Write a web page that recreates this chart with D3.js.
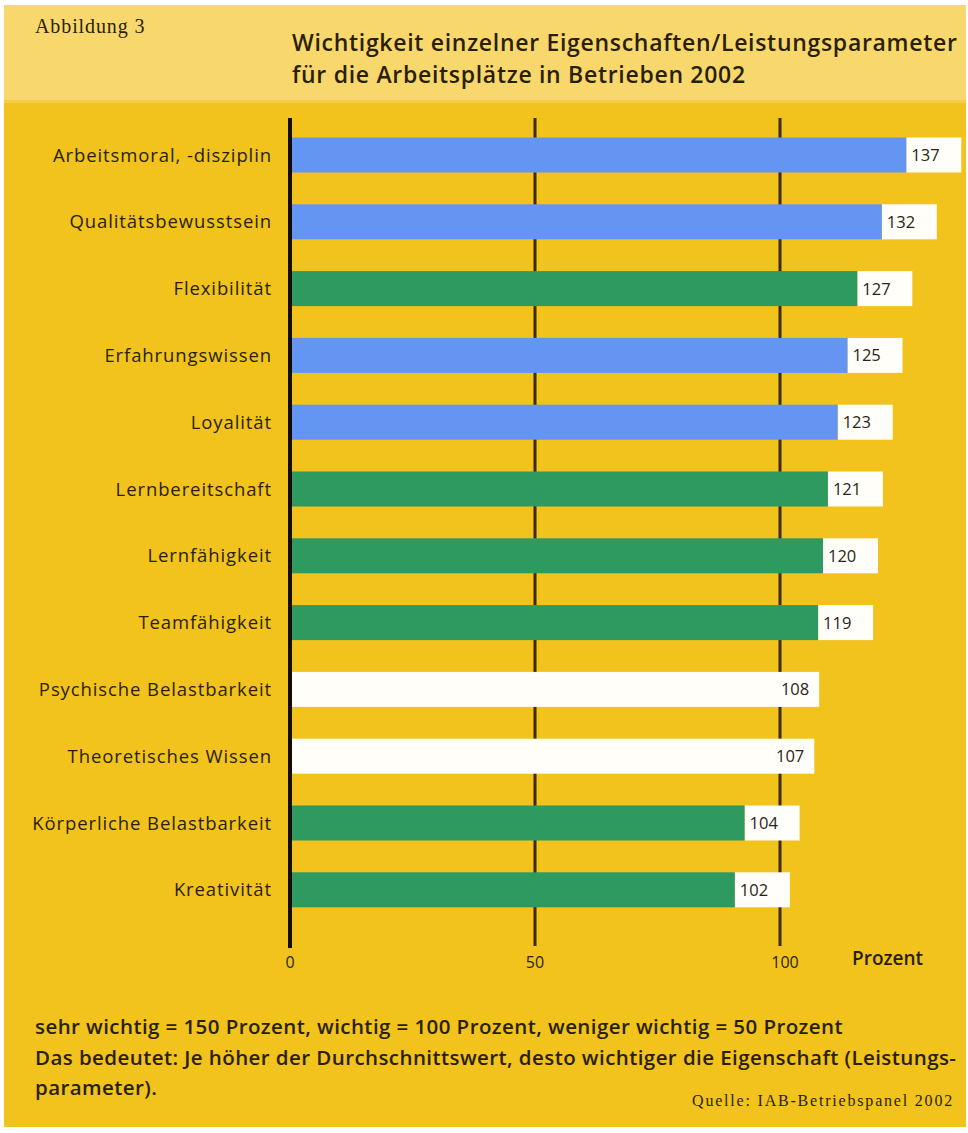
<!DOCTYPE html>
<html>
<head>
<meta charset="utf-8">
<script src="https://cdn.jsdelivr.net/npm/d3@7"></script>
<style>
  html, body { margin: 0; padding: 0; background: #ffffff; }
  svg { display: block; }
</style>
</head>
<body>
<svg id="chart" width="968" height="1133"></svg>
<script>
// ---- data ----
const categories = [
  "Arbeitsmoral, -disziplin",
  "Qualitätsbewusstsein",
  "Flexibilität",
  "Erfahrungswissen",
  "Loyalität",
  "Lernbereitschaft",
  "Lernfähigkeit",
  "Teamfähigkeit",
  "Psychische Belastbarkeit",
  "Theoretisches Wissen",
  "Körperliche Belastbarkeit",
  "Kreativität"
];
const values = [137, 132, 127, 125, 123, 121, 120, 119, 108, 107, 104, 102];
const groups = ["blau", "blau", "grün", "blau", "blau", "grün", "grün", "grün", "weiß", "weiß", "grün", "grün"];
const tickValues = [0, 50, 100];
const tickLabels = ["0", "50", "100"];
const titleLines = [
  "Wichtigkeit einzelner Eigenschaften/Leistungsparameter",
  "für die Arbeitsplätze in Betrieben 2002"
];
const figureLabel = "Abbildung 3";
const unitLabel = "Prozent";
const noteLines = [
  "sehr wichtig = 150 Prozent, wichtig = 100 Prozent, weniger wichtig = 50 Prozent",
  "Das bedeutet: Je höher der Durchschnittswert, desto wichtiger die Eigenschaft (Leistungs-",
  "parameter)."
];
const sourceLabel = "Quelle: IAB-Betriebspanel 2002";

// ---- layout / style ----
const svg = d3.select("#chart");
const sansFont = "'Open Sans', 'DejaVu Sans', sans-serif";
const serifFont = "'Liberation Serif', 'DejaVu Serif', serif";
const textCol = "#2a1f05";

const colour = d3.scaleOrdinal()
  .domain(["blau", "grün", "weiß"])
  .range(["#6595f2", "#2f9a60", "#fffef8"]);

// background panels
svg.append("rect").attr("x", 4).attr("y", 5).attr("width", 962).attr("height", 1122).attr("fill", "#f1c31c");
svg.append("rect").attr("x", 4).attr("y", 5).attr("width", 962).attr("height", 97).attr("fill", "#f8d86c");
svg.append("rect").attr("x", 4).attr("y", 100).attr("width", 962).attr("height", 3).attr("fill", "#f4cd45");

// header
svg.append("text")
  .attr("x", 35).attr("y", 33)
  .attr("font-family", serifFont).attr("font-size", 20)
  .attr("letter-spacing", 0.9)
  .attr("fill", textCol)
  .text(figureLabel);

svg.append("g").selectAll("text").data(titleLines).join("text")
  .attr("x", 292).attr("y", (d, i) => 51 + i * 32)
  .attr("font-family", sansFont).attr("font-size", 23).attr("font-weight", 600)
  .attr("letter-spacing", 0.7)
  .attr("fill", textCol)
  .text(d => d);

// scales
const x = d3.scaleLinear().domain([0, 100]).range([290, 780]);
const y = d3.scaleBand().domain(categories).range([121.6, 923.2])
  .paddingInner(0.476).paddingOuter(0.238);

const gridTop = 118, gridBottom = 946;

// gridlines (behind bars)
svg.append("g").selectAll("line").data(tickValues.filter(v => v !== 0)).join("line")
  .attr("x1", d => x(d)).attr("x2", d => x(d))
  .attr("y1", gridTop).attr("y2", gridBottom)
  .attr("stroke", "#3d2a08").attr("stroke-width", 3);

// data rows
const rows = categories.map((c, i) => ({ cat: c, value: values[i], group: groups[i] }));
const boxW = 55;

const bars = svg.append("g");
// label boxes / full extent (white)
bars.selectAll("rect.box").data(rows).join("rect")
  .attr("class", "box")
  .attr("x", d => d.group === "weiß" ? x(0) : x(d.value) - boxW)
  .attr("y", d => y(d.cat))
  .attr("width", d => d.group === "weiß" ? x(d.value) - x(0) : boxW)
  .attr("height", y.bandwidth())
  .attr("fill", "#fffef8");
// coloured bars
bars.selectAll("rect.bar").data(rows.filter(d => d.group !== "weiß")).join("rect")
  .attr("class", "bar")
  .attr("x", x(0))
  .attr("y", d => y(d.cat))
  .attr("width", d => x(d.value) - boxW - x(0))
  .attr("height", y.bandwidth())
  .attr("fill", d => colour(d.group));

// value labels
bars.selectAll("text.val").data(rows).join("text")
  .attr("class", "val")
  .attr("x", d => d.group === "weiß" ? x(d.value) - 10 : x(d.value) - boxW + 5)
  .attr("y", d => y(d.cat) + y.bandwidth() / 2)
  .attr("dy", "0.36em")
  .attr("text-anchor", d => d.group === "weiß" ? "end" : "start")
  .attr("font-family", sansFont).attr("font-size", 16.5).attr("font-weight", 500)
  .attr("fill", "#2a2418")
  .text(d => d.value);

// category labels
svg.append("g").selectAll("text").data(rows).join("text")
  .attr("x", 272)
  .attr("y", d => y(d.cat) + y.bandwidth() / 2)
  .attr("dy", "0.36em")
  .attr("text-anchor", "end")
  .attr("font-family", sansFont).attr("font-size", 18.5).attr("font-weight", 500)
  .attr("letter-spacing", 0.9)
  .attr("fill", textCol)
  .text(d => d.cat);

// zero axis line
svg.append("line")
  .attr("x1", x(0)).attr("x2", x(0))
  .attr("y1", gridTop).attr("y2", gridBottom + 2)
  .attr("stroke", "#120c02").attr("stroke-width", 4);

// tick labels
svg.append("g").selectAll("text").data(tickValues).join("text")
  .attr("x", d => x(d) + (d === 100 ? 5 : 0))
  .attr("y", 968)
  .attr("text-anchor", "middle")
  .attr("font-family", sansFont).attr("font-size", 16)
  .attr("fill", textCol)
  .text((d, i) => tickLabels[i]);

svg.append("text")
  .attr("x", 852).attr("y", 965)
  .attr("font-family", sansFont).attr("font-size", 19).attr("font-weight", 600)
  .attr("fill", textCol)
  .text(unitLabel);

// notes
svg.append("g").selectAll("text").data(noteLines).join("text")
  .attr("x", 35).attr("y", (d, i) => 1034 + i * 30.5)
  .attr("font-family", sansFont).attr("font-size", 20.5).attr("font-weight", 600)
  .attr("letter-spacing", 0.42)
  .attr("fill", textCol)
  .text(d => d);

svg.append("text")
  .attr("x", 954).attr("y", 1106)
  .attr("text-anchor", "end")
  .attr("font-family", serifFont).attr("font-size", 16)
  .attr("letter-spacing", 1.8)
  .attr("fill", textCol)
  .text(sourceLabel);
</script>
</body>
</html>
